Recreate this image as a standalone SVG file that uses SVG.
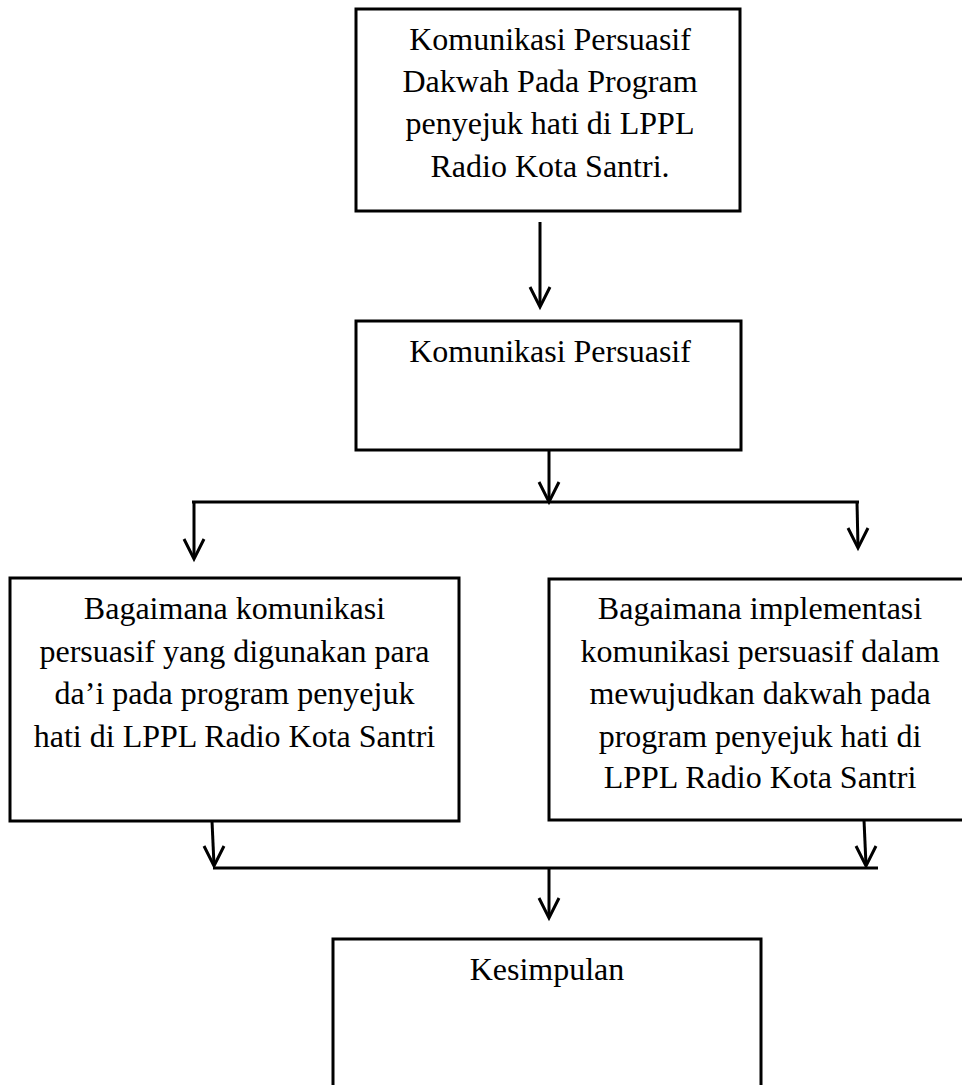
<svg xmlns="http://www.w3.org/2000/svg" width="962" height="1085" viewBox="0 0 962 1085">
<style>
.box{fill:#fff;stroke:#000;stroke-width:3}
.t{font-family:"Liberation Serif","Times New Roman",serif;font-size:32px;fill:#000;text-anchor:middle}
.c{fill:none;stroke:#000;stroke-width:3}
.ah{fill:none;stroke:#000;stroke-width:3;stroke-linejoin:miter}
</style>
<rect width="962" height="1085" fill="#fff"/>
<g id="n1">
<rect class="box" x="356" y="9" width="384" height="202"/>
<text class="t" x="550" y="50">Komunikasi Persuasif</text>
<text class="t" x="550" y="92">Dakwah Pada Program</text>
<text class="t" x="550" y="134">penyejuk hati di LPPL</text>
<text class="t" x="550" y="177">Radio Kota Santri.</text>
</g>
<g id="n2">
<rect class="box" x="356" y="321" width="385" height="129"/>
<text class="t" x="550" y="362">Komunikasi Persuasif</text>
</g>
<g id="n3">
<rect class="box" x="10" y="578" width="449" height="243"/>
<text class="t" x="234.5" y="619">Bagaimana komunikasi</text>
<text class="t" x="234.5" y="662">persuasif yang digunakan para</text>
<text class="t" x="234.5" y="704">da’i pada program penyejuk</text>
<text class="t" x="234.5" y="747">hati di LPPL Radio Kota Santri</text>
</g>
<g id="n4">
<rect class="box" x="549" y="579" width="424" height="241"/>
<text class="t" x="760" y="619">Bagaimana implementasi</text>
<text class="t" x="760" y="662">komunikasi persuasif dalam</text>
<text class="t" x="760" y="704">mewujudkan dakwah pada</text>
<text class="t" x="760" y="747">program penyejuk hati di</text>
<text class="t" x="760" y="788">LPPL Radio Kota Santri</text>
</g>
<g id="n5">
<rect class="box" x="333" y="939" width="428" height="170"/>
<text class="t" x="547" y="980">Kesimpulan</text>
</g>
<g id="connectors">
<line class="c" x1="540" y1="222" x2="540" y2="306"/>
<polyline class="ah" points="530,287 540,307 550,287"/>
<line class="c" x1="549" y1="450" x2="549" y2="501"/>
<polyline class="ah" points="539,482 549,502 559,482"/>
<line class="c" x1="192" y1="502" x2="859" y2="502"/>
<line class="c" x1="194" y1="502" x2="194" y2="558"/>
<polyline class="ah" points="184,539 194,559 204,539"/>
<line class="c" x1="857" y1="502" x2="858" y2="547"/>
<polyline class="ah" points="848,528 858,548 868,528"/>
<line class="c" x1="212" y1="821" x2="214" y2="865"/>
<polyline class="ah" points="204,846 214,866 224,846"/>
<line class="c" x1="864" y1="820" x2="866" y2="865"/>
<polyline class="ah" points="856,846 866,866 876,846"/>
<line class="c" x1="213" y1="868" x2="878" y2="868"/>
<line class="c" x1="549" y1="868" x2="549" y2="917"/>
<polyline class="ah" points="539,898 549,918 559,898"/>
</g>
</svg>
